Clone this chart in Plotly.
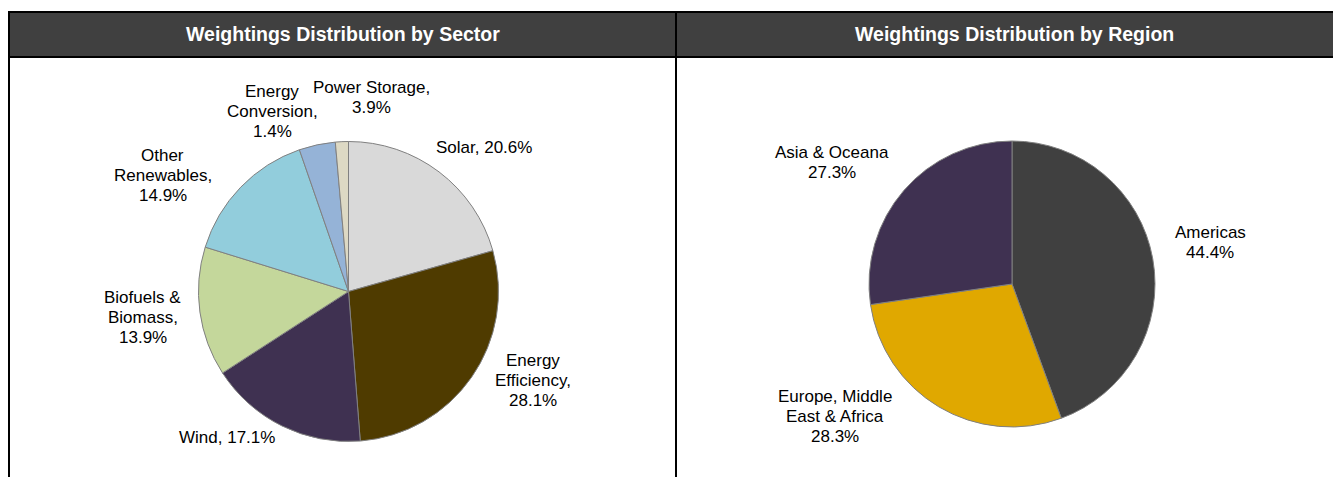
import plotly.graph_objects as go

# Page has an 8px body margin; size the figure so it fits the 1341x477 window.
OFF = 8
W, H = 1341 - OFF, 477 - OFF

# ---- Data ----
sector_labels = ["Solar", "Energy Efficiency", "Wind", "Biofuels & Biomass",
                 "Other Renewables", "Power Storage", "Energy Conversion"]
sector_values = [20.6, 28.1, 17.1, 13.9, 14.9, 3.9, 1.4]
sector_colors = ["#D9D9D9", "#4F3B00", "#3F3151", "#C4D79B",
                 "#92CDDC", "#95B3D7", "#DDD9C4"]

region_labels = ["Americas", "Europe, Middle East & Africa", "Asia & Oceana"]
region_values = [44.4, 28.3, 27.3]
region_colors = ["#404040", "#E0A800", "#3F3151"]

titles = ["Weightings Distribution by Sector", "Weightings Distribution by Region"]


def px_x(x):
    return (x - OFF) / W


def px_y(y):
    return 1 - (y - OFF) / H


fig = go.Figure()

fig.add_trace(go.Pie(
    labels=sector_labels, values=sector_values, sort=False,
    direction="clockwise", rotation=0,
    marker=dict(colors=sector_colors, line=dict(color="#808080", width=1)),
    textinfo="none", hoverinfo="label+percent", showlegend=False,
    domain=dict(x=[px_x(198.5), px_x(498.5)], y=[px_y(441.5), px_y(141.5)]),
))

fig.add_trace(go.Pie(
    labels=region_labels, values=region_values, sort=False,
    direction="clockwise", rotation=0,
    marker=dict(colors=region_colors, line=dict(color="#808080", width=1)),
    textinfo="none", hoverinfo="label+percent", showlegend=False,
    domain=dict(x=[px_x(869), px_x(1155)], y=[px_y(427), px_y(141)]),
))


def fmt(v):
    return f"{v:.1f}%"


# label text lines (built from data), and placement (center x, first-line center y)
sector_lines = {
    "Solar": ["Solar, " + fmt(sector_values[0])],
    "Energy Efficiency": ["Energy", "Efficiency,", fmt(sector_values[1])],
    "Wind": ["Wind, " + fmt(sector_values[2])],
    "Biofuels & Biomass": ["Biofuels &amp;", "Biomass,", fmt(sector_values[3])],
    "Other Renewables": ["Other", "Renewables,", fmt(sector_values[4])],
    "Power Storage": ["Power Storage,", fmt(sector_values[5])],
    "Energy Conversion": ["Energy", "Conversion,", fmt(sector_values[6])],
}
sector_label_pos = {
    "Solar": (484, 147.5),
    "Energy Efficiency": (532.5, 360.5),
    "Wind": (226.5, 437),
    "Biofuels & Biomass": (142.5, 297),
    "Other Renewables": (162.5, 155),
    "Power Storage": (371, 87.5),
    "Energy Conversion": (272, 91.5),
}
region_lines = {
    "Americas": ["Americas", fmt(region_values[0])],
    "Europe, Middle East & Africa": ["Europe, Middle", "East &amp; Africa", fmt(region_values[1])],
    "Asia & Oceana": ["Asia &amp; Oceana", fmt(region_values[2])],
}
region_label_pos = {
    "Americas": (1210, 232.5),
    "Europe, Middle East & Africa": (835, 396),
    "Asia & Oceana": (831.5, 152.5),
}
LINE_STEP = 20.2

label_font = dict(family="Liberation Sans, Arial, sans-serif", size=17, color="#000000")
annotations = []
for lines_map, pos_map, labs in [(sector_lines, sector_label_pos, sector_labels),
                                 (region_lines, region_label_pos, region_labels)]:
    for lab in labs:
        cx, cy = pos_map[lab]
        for i, line in enumerate(lines_map[lab]):
            annotations.append(dict(x=px_x(cx), y=px_y(cy + i * LINE_STEP),
                                    xref="paper", yref="paper", text=line,
                                    showarrow=False, font=label_font,
                                    xanchor="center", yanchor="middle"))

# ---- Panel titles ----
title_font = dict(family="Liberation Sans, Arial, sans-serif", size=19.5, color="#FFFFFF")
for t, cx in zip(titles, [342.5, 1014.5]):
    annotations.append(dict(x=px_x(cx), y=px_y(34), xref="paper", yref="paper",
                            text="<b>" + t + "</b>", showarrow=False, font=title_font,
                            xanchor="center", yanchor="middle"))

# ---- Frame shapes ----
shapes = [
    dict(type="rect", xref="paper", yref="paper", x0=px_x(9), x1=1.01,
         y0=px_y(57), y1=px_y(12), fillcolor="#404040", line=dict(width=0), layer="below"),
    dict(type="line", xref="paper", yref="paper", x0=px_x(8), x1=1.01,
         y0=px_y(12), y1=px_y(12), line=dict(color="#000000", width=2)),
    dict(type="line", xref="paper", yref="paper", x0=px_x(8), x1=1.01,
         y0=px_y(57), y1=px_y(57), line=dict(color="#000000", width=2)),
    dict(type="line", xref="paper", yref="paper", x0=px_x(9), x1=px_x(9),
         y0=px_y(11), y1=-0.02, line=dict(color="#000000", width=2)),
    dict(type="line", xref="paper", yref="paper", x0=px_x(676), x1=px_x(676),
         y0=px_y(11), y1=-0.02, line=dict(color="#000000", width=2)),
]

fig.update_layout(
    width=W, height=H,
    margin=dict(l=0, r=0, t=0, b=0),
    paper_bgcolor="#FFFFFF", plot_bgcolor="#FFFFFF",
    annotations=annotations, shapes=shapes,
    showlegend=False,
)

fig.write_html("out.html")
